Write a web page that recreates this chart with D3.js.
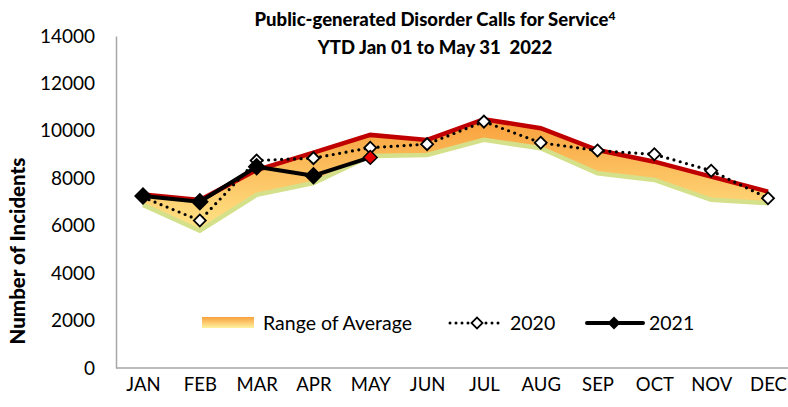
<!DOCTYPE html>
<html>
<head>
<meta charset="utf-8">
<script src="https://cdn.jsdelivr.net/npm/d3@7"></script>
<style>
  html, body { margin: 0; padding: 0; background: #fff; }
  svg { display: block; }
  text { font-family: Lato, "Open Sans", sans-serif; fill: #000; }
</style>
</head>
<body>
<svg id="chart" width="788" height="407"></svg>
<script>
// ---- data ----
const months = ["JAN","FEB","MAR","APR","MAY","JUN","JUL","AUG","SEP","OCT","NOV","DEC"];
const rangeUpper = [7320, 7080, 8350, 9080, 9830, 9620, 10490, 10110, 9190, 8700, 8070, 7440];
const rangeLower = [6880, 5790, 7300, 7800, 8940, 8980, 9620, 9270, 8210, 7930, 7090, 6950];
const values2020 = [7200, 6220, 8750, 8850, 9290, 9440, 10390, 9500, 9170, 9010, 8320, 7160];
const values2021 = [7250, 7010, 8490, 8110, 8880];
const yTicks = [0, 2000, 4000, 6000, 8000, 10000, 12000, 14000];
const titleLine1 = "Public-generated Disorder Calls for Service";
const titleSup = "4";
const titleLine2 = "YTD Jan 01 to May 31  2022";
const yTitle = "Number of Incidents";
const legendLabels = ["Range of Average", "2020", "2021"];

// ---- layout ----
const svg = d3.select("#chart");
const x = d3.scalePoint().domain(months).range([143, 768]);
const y = d3.scaleLinear().domain([0, 14000]).range([368, 36]);
const axisColor = "#a6a6a6";

// gradient
const defs = svg.append("defs");
const grad = defs.append("linearGradient").attr("id", "rangeGrad")
  .attr("x1", 0).attr("y1", 0).attr("x2", 0).attr("y2", 1);
grad.append("stop").attr("offset", "0%").attr("stop-color", "#f9a03c");
grad.append("stop").attr("offset", "100%").attr("stop-color", "#ffe487");
const gradL = defs.append("linearGradient").attr("id", "legGrad")
  .attr("x1", 0).attr("y1", 0).attr("x2", 0).attr("y2", 1);
gradL.append("stop").attr("offset", "0%").attr("stop-color", "#f9a03c");
gradL.append("stop").attr("offset", "100%").attr("stop-color", "#fff3a0");

// title
const t = svg.append("text").attr("x", 435).attr("y", 26)
  .attr("text-anchor", "middle").attr("font-weight", "900").attr("font-size", 18.5);
t.append("tspan").text(titleLine1);
t.append("tspan").attr("font-size", 12).attr("dy", -6).text(titleSup);
svg.append("text").attr("x", 435).attr("y", 54).style("white-space", "pre")
  .attr("text-anchor", "middle").attr("font-weight", "900").attr("font-size", 18.5)
  .text(titleLine2);

// y axis
const yAxis = svg.append("g").attr("transform", "translate(116,0)")
  .call(d3.axisLeft(y).tickValues(yTicks).tickSize(0).tickPadding(21).tickFormat(d3.format("d")));
yAxis.select(".domain").attr("stroke", axisColor).attr("stroke-width", 1.5);
yAxis.selectAll("text").attr("font-size", 19).attr("font-family", "Lato");

// x axis
svg.append("line").attr("x1", 116).attr("x2", 800).attr("y1", y(0)).attr("y2", y(0))
  .attr("stroke", axisColor).attr("stroke-width", 1.5);
const xAxis = svg.append("g").attr("transform", `translate(0,${y(0)})`)
  .call(d3.axisBottom(x).tickSize(0).tickPadding(10));
xAxis.select(".domain").remove();
xAxis.selectAll("text").attr("font-size", 18.5).attr("font-family", "Lato");

// y title
svg.append("text").attr("transform", "translate(25,251) rotate(-90)")
  .attr("text-anchor", "middle").attr("font-weight", "900").attr("font-size", 20.5)
  .text(yTitle);

// range area
const rangeData = months.map((m, i) => ({ m, lo: rangeLower[i], hi: rangeUpper[i] }));
svg.append("path").datum(rangeData)
  .attr("fill", "url(#rangeGrad)")
  .attr("d", d3.area().x(d => x(d.m)).y0(d => y(d.lo)).y1(d => y(d.hi)));
svg.append("path").datum(rangeData)
  .attr("fill", "none").attr("stroke", "#d5e08a").attr("stroke-width", 4.5)
  .attr("d", d3.line().x(d => x(d.m)).y(d => y(d.lo)));
svg.append("path").datum(rangeData)
  .attr("fill", "none").attr("stroke", "#c00000").attr("stroke-width", 4.5)
  .attr("d", d3.line().x(d => x(d.m)).y(d => y(d.hi)));

// 2020
const d2020 = months.map((m, i) => ({ m, v: values2020[i] }));
svg.append("path").datum(d2020)
  .attr("fill", "none").attr("stroke", "#000").attr("stroke-width", 3.2)
  .attr("stroke-linecap", "round").attr("stroke-dasharray", "0 6.5")
  .attr("d", d3.line().x(d => x(d.m)).y(d => y(d.v)));
const sq = (area) => d3.symbol().type(d3.symbolSquare).size(area)();
svg.selectAll(".m2020").data(d2020).enter().append("path")
  .attr("transform", d => `translate(${x(d.m)},${y(d.v)}) rotate(45)`)
  .attr("d", sq(72)).attr("fill", "#fff").attr("stroke", "#000").attr("stroke-width", 1.8);

// 2021
const d2021 = values2021.map((v, i) => ({ m: months[i], v }));
svg.append("path").datum(d2021)
  .attr("fill", "none").attr("stroke", "#000").attr("stroke-width", 4)
  .attr("stroke-linejoin", "round")
  .attr("d", d3.line().x(d => x(d.m)).y(d => y(d.v)));
svg.selectAll(".m2021").data(d2021).enter().append("path")
  .attr("transform", d => `translate(${x(d.m)},${y(d.v)}) rotate(45)`)
  .attr("d", (d, i) => i === d2021.length - 1 ? sq(95) : sq(125))
  .attr("fill", (d, i) => i === d2021.length - 1 ? "#e60000" : "#000")
  .attr("stroke", "#000").attr("stroke-width", 1.5);

// legend
const ly = 323;
svg.append("rect").attr("x", 202).attr("y", ly - 6).attr("width", 52).attr("height", 11)
  .attr("fill", "url(#legGrad)");
svg.append("text").attr("x", 263).attr("y", ly + 6.5).attr("font-size", 19.5).text(legendLabels[0]);

svg.append("line").attr("x1", 450).attr("x2", 504).attr("y1", ly).attr("y2", ly)
  .attr("stroke", "#000").attr("stroke-width", 3).attr("stroke-linecap", "round")
  .attr("stroke-dasharray", "0 6");
svg.append("path").attr("transform", `translate(477,${ly}) rotate(45)`)
  .attr("d", sq(60)).attr("fill", "#fff").attr("stroke", "#000").attr("stroke-width", 1.8);
svg.append("text").attr("x", 510).attr("y", ly + 6.5).attr("font-size", 19.5).text(legendLabels[1]);

svg.append("line").attr("x1", 587).attr("x2", 643).attr("y1", ly).attr("y2", ly)
  .attr("stroke", "#000").attr("stroke-width", 4).attr("stroke-linecap", "round");
svg.append("path").attr("transform", `translate(614,${ly}) rotate(45)`)
  .attr("d", sq(85)).attr("fill", "#000");
svg.append("text").attr("x", 649).attr("y", ly + 6.5).attr("font-size", 19.5).text(legendLabels[2]);
</script>
</body>
</html>
